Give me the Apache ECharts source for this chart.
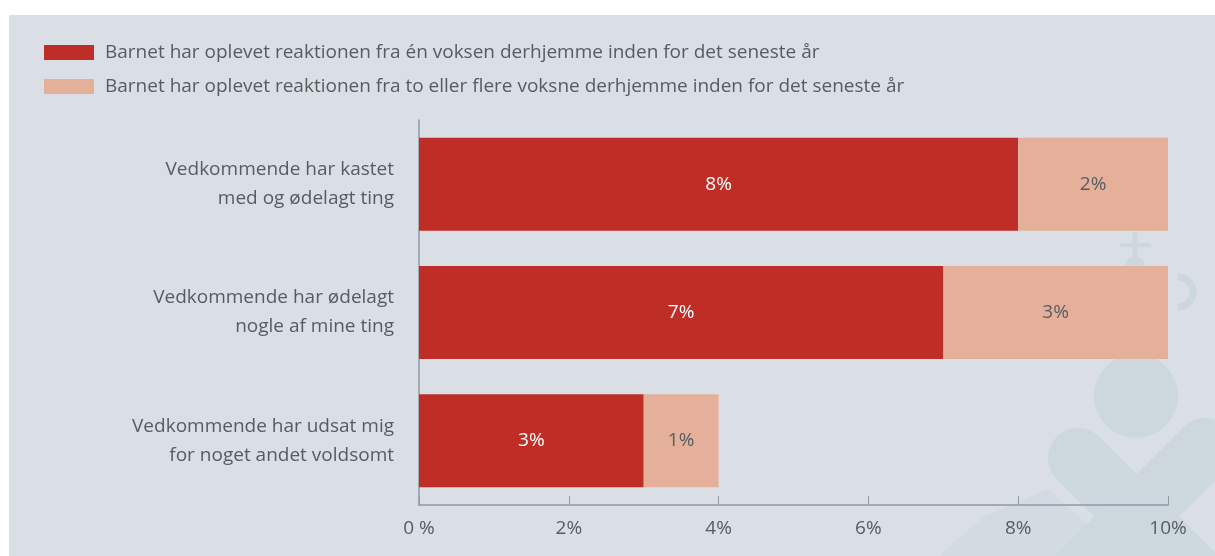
<!DOCTYPE html>
<html>
<head>
<meta charset="utf-8">
<script src="https://cdn.jsdelivr.net/npm/echarts@6/dist/echarts.min.js"></script>
<style>
  html, body { margin: 0; padding: 0; background: #fff; }
  #chart { width: 1215px; height: 556px; }
</style>
</head>
<body>
<div id="chart"></div>
<script>
// data
const categories = [
  'Vedkommende har kastet\nmed og ødelagt ting',
  'Vedkommende har ødelagt\nnogle af mine ting',
  'Vedkommende har udsat mig\nfor noget andet voldsomt'
]
const seriesNames = [
  'Barnet har oplevet reaktionen fra én voksen derhjemme inden for det seneste år',
  'Barnet har oplevet reaktionen fra to eller flere voksne derhjemme inden for det seneste år'
]
const oneAdult = [8, 7, 3]
const twoOrMore = [2, 3, 1]
const xTicks = [0, 2, 4, 6, 8, 10]
const xTickLabels = ['0 %', '2%', '4%', '6%', '8%', '10%']

const textColor = '#575c61'
const axisColor = '#8e9aa5'
const fontFamily = '"Open Sans", sans-serif'
const markColor = '#cdd7de'

const chart = echarts.init(document.getElementById('chart'))

chart.setOption({
  backgroundColor: '#ffffff',
  textStyle: { fontFamily: fontFamily },
  graphic: [
    // panel background
    { type: 'rect', z: -10, shape: { x: 9, y: 15, width: 1206, height: 541 }, style: { fill: '#d9dfe5' } },
    // faint watermark
    { type: 'polygon', z: -9, shape: { points: [[938, 556], [985, 516], [1048, 489], [1092, 528], [1118, 556]] }, style: { fill: '#d3dbe2' } },
    { type: 'circle', z: -8, shape: { cx: 1136, cy: 396, r: 42 }, style: { fill: markColor } },
    { type: 'line', z: -8, shape: { x1: 1078, y1: 458, x2: 1190, y2: 570 }, style: { stroke: markColor, lineWidth: 60, lineCap: 'round' } },
    { type: 'line', z: -8, shape: { x1: 1205, y1: 448, x2: 1080, y2: 573 }, style: { stroke: markColor, lineWidth: 60, lineCap: 'round' } },
    { type: 'line', z: -8, shape: { x1: 1135, y1: 232, x2: 1135, y2: 262 }, style: { stroke: markColor, lineWidth: 5 } },
    { type: 'line', z: -8, shape: { x1: 1122, y1: 245, x2: 1149, y2: 245 }, style: { stroke: markColor, lineWidth: 4, lineCap: 'round' } },
    { type: 'circle', z: -8, shape: { cx: 1135, cy: 266, r: 10 }, style: { fill: markColor } },
    { type: 'arc', z: -8, shape: { cx: 1178, cy: 292, r: 15, startAngle: -Math.PI / 2, endAngle: Math.PI / 2 }, style: { stroke: markColor, lineWidth: 7, fill: null } }
  ],
  legend: {
    orient: 'vertical',
    left: 39,
    top: 38,
    itemWidth: 50,
    itemHeight: 15,
    itemGap: 15,
    icon: 'rect',
    textStyle: { fontSize: 19, color: textColor, fontFamily: fontFamily, padding: [0, 0, 0, 6] },
    data: seriesNames
  },
  grid: {
    left: 419,
    right: 47,
    top: 120,
    bottom: 51,
    containLabel: false
  },
  xAxis: {
    type: 'value',
    min: 0,
    max: 10,
    interval: 2,
    axisLine: { show: true, lineStyle: { color: axisColor, width: 1.5 } },
    axisTick: { show: true, inside: true, length: 9, lineStyle: { color: axisColor, width: 1 } },
    splitLine: { show: false },
    axisLabel: {
      fontSize: 19,
      color: textColor,
      margin: 14,
      formatter: function (v) {
        const i = xTicks.indexOf(v)
        return i >= 0 ? xTickLabels[i] : ''
      }
    }
  },
  yAxis: {
    type: 'category',
    inverse: true,
    data: categories,
    axisLine: { show: true, lineStyle: { color: axisColor, width: 1.5 } },
    axisTick: { show: false },
    axisLabel: {
      fontSize: 19,
      color: textColor,
      margin: 25,
      lineHeight: 29,
      align: 'right'
    }
  },
  series: [
    {
      name: seriesNames[0],
      type: 'bar',
      stack: 'total',
      barWidth: 93,
      data: oneAdult,
      itemStyle: { color: '#be2e26' },
      label: {
        show: true,
        position: 'inside',
        color: '#ffffff',
        fontSize: 19,
        formatter: '{c}%'
      }
    },
    {
      name: seriesNames[1],
      type: 'bar',
      stack: 'total',
      barWidth: 93,
      data: twoOrMore,
      itemStyle: { color: '#e4b09a' },
      label: {
        show: true,
        position: 'inside',
        color: textColor,
        fontSize: 19,
        formatter: '{c}%'
      }
    }
  ]
})
</script>
</body>
</html>
